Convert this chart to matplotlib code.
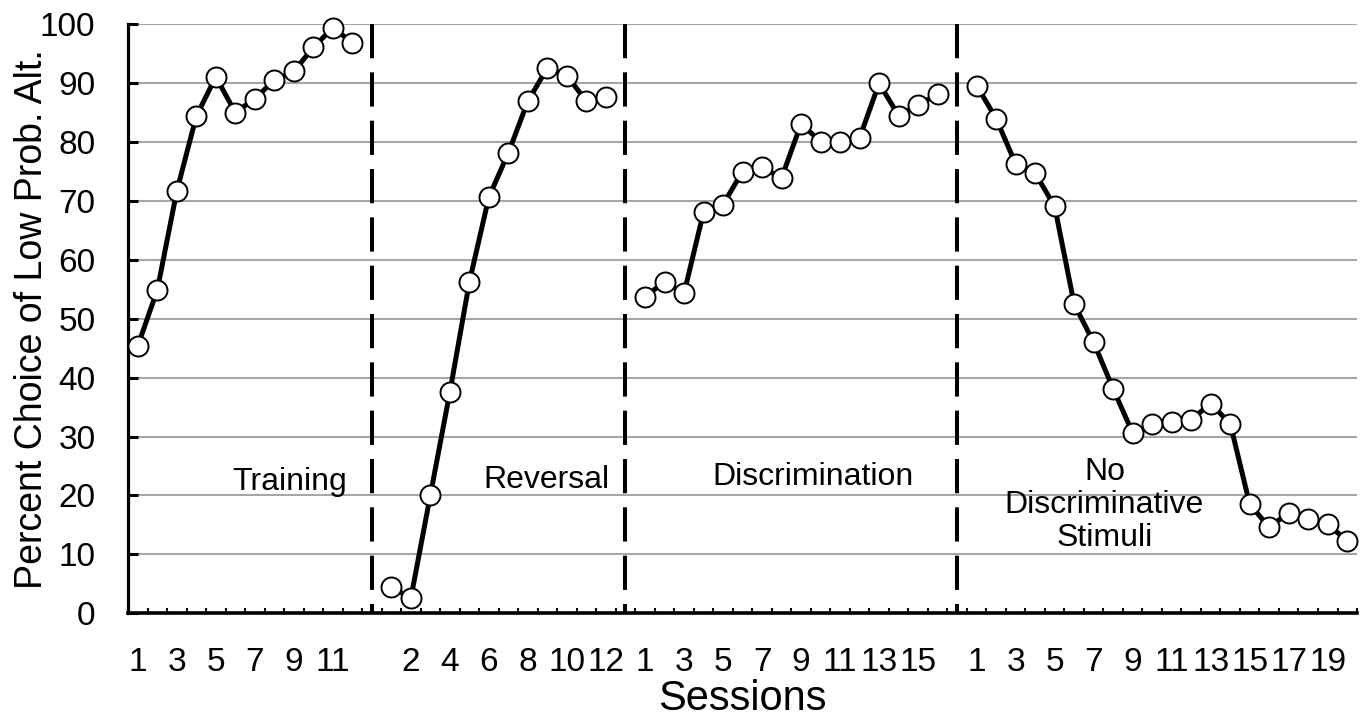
import matplotlib
matplotlib.use("Agg")
import matplotlib.pyplot as plt
import numpy as np

plt.rcParams['font.family'] = ['Liberation Sans', 'DejaVu Sans']

# ---- data ----
phases = ["Training", "Reversal", "Discrimination", "No\nDiscriminative\nStimuli"]
training = [45.4, 54.9, 71.7, 84.4, 91.1, 85.0, 87.4, 90.5, 92.0, 96.1, 99.4, 96.9]
reversal = [4.4, 2.6, 20.1, 37.6, 56.3, 70.7, 78.2, 87.0, 92.6, 91.3, 86.9, 87.6]
discrimination = [53.7, 56.3, 54.3, 68.1, 69.4, 75.0, 75.7, 73.9, 83.1, 80.1, 80.1,
                  80.7, 90.0, 84.5, 86.3, 88.1]
no_disc = [89.6, 84.0, 76.3, 74.7, 69.1, 52.5, 46.0, 38.1, 30.6, 32.2, 32.4, 32.9,
           35.6, 32.2, 18.5, 14.6, 17.1, 16.0, 15.1, 12.3]
series = [training, reversal, discrimination, no_disc]
label_parity = [1, 0, 1, 1]  # which sessions get labels: odd (1) or even (0)
yticks = list(range(0, 101, 10))

fig = plt.figure(figsize=(13.71, 7.21), dpi=100)
ax = fig.add_axes([0.0934, 0.1494, 0.8964, 0.8169])

pos = 1
tick_pos, tick_lab, dividers = [], [], []
for i, vals in enumerate(series):
    xs = np.arange(pos, pos + len(vals))
    ax.plot(xs, vals, color='black', lw=3.6, zorder=4, clip_on=False,
            marker='o', ms=14.4, mfc='white', mec='black', mew=1.4)
    for k, x in enumerate(xs):
        sess = k + 1
        if sess % 2 == label_parity[i]:
            tick_pos.append(x)
            tick_lab.append(str(sess))
    pos += len(vals)
    if i < len(series) - 1:
        dividers.append(pos)
        pos += 1
n_total = pos - 1

for d in dividers:
    ax.plot([d, d], [100, 0], color='black', lw=2.9, dashes=(8.5, 3.5), zorder=3,
            dash_capstyle='butt')

# phase labels
ax.text(8.8, 22.3, phases[0], ha='center', va='center', fontsize=23)
ax.text(21.97, 22.6, phases[1], ha='center', va='center', fontsize=23)
ax.text(35.6, 23.2, phases[2], ha='center', va='center', fontsize=23)
ax.text(50.55, 18.4, phases[3], ha='center', va='center', fontsize=23, linespacing=1.12)

ax.set_xlim(0.5, n_total + 0.5)
ax.set_ylim(0, 100)
ax.set_yticks(yticks)
ax.yaxis.grid(True, color='#a6a6a6', lw=1.5, zorder=0)
ax.set_axisbelow(True)

ax.set_xticks(tick_pos)
ax.set_xticklabels(tick_lab)
ax.set_xticks(np.arange(0.5, n_total + 1, 1.0), minor=True)
ax.tick_params(axis='x', which='major', length=0, pad=24, labelsize=24)
ax.tick_params(axis='x', which='minor', direction='in', length=3.6, width=1.5)
ax.tick_params(axis='y', direction='in', length=7.2, width=2.2, pad=23.5, labelsize=24)

for s in ['top', 'right']:
    ax.spines[s].set_visible(False)
ax.spines['left'].set_linewidth(2.3)
ax.spines['bottom'].set_linewidth(2.6)

ax.set_xlabel("Sessions", fontsize=30, labelpad=1)
ax.set_ylabel("Percent Choice of Low Prob. Alt.", fontsize=27, labelpad=-7)

fig.savefig("out.png", dpi=100)
